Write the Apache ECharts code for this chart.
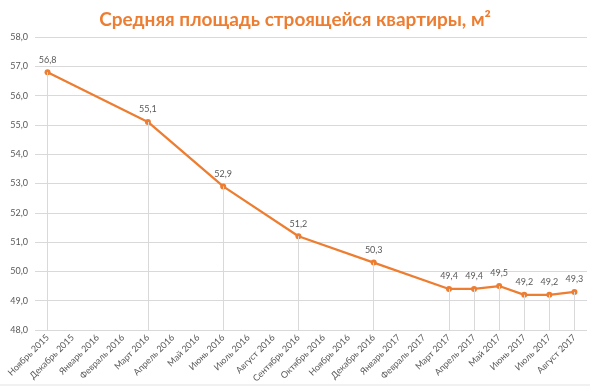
<!DOCTYPE html>
<html><head><meta charset="utf-8">
<script src="https://cdn.jsdelivr.net/npm/echarts@6/dist/echarts.min.js"></script>
<style>html,body{margin:0;padding:0;background:#fff}#c{width:590px;height:386px}</style>
</head><body><div id="c"></div>
<script>
const categories = ["Ноябрь 2015","Декабрь 2015","Январь 2016","Февраль 2016","Март 2016","Апрель 2016","Май 2016","Июнь 2016","Июль 2016","Август 2016","Сентябрь 2016","Октябрь 2016","Ноябрь 2016","Декабрь 2016","Январь 2017","Февраль 2017","Март 2017","Апрель 2017","Май 2017","Июнь 2017","Июль 2017","Август 2017"];
const values = [56.8,null,null,null,55.1,null,null,52.9,null,null,51.2,null,null,50.3,null,null,49.4,49.4,49.5,49.2,49.2,49.3];
const yMin = 48, yMax = 58, yStep = 1;
const titleText = "Средняя площадь строящейся квартиры, м²";

const fmt = v => v.toFixed(1).replace('.', ',');
const dropLines = [];
values.forEach((v,i)=>{ if(v!==null) dropLines.push([{coord:[i,yMin]},{coord:[i,v]}]); });

const chart = echarts.init(document.getElementById('c'));
chart.setOption({
  animation:false,
  title:{text:titleText,left:'center',top:5,textStyle:{color:'#ED7D31',fontFamily:'Lato',fontWeight:'bold',fontSize:19}},
  graphic:[{type:'line',shape:{x1:0,y1:385,x2:590,y2:385},style:{stroke:'#e3e3e3',lineWidth:1}}],
  grid:{left:35,right:3,top:37,bottom:56},
  xAxis:{type:'category',data:categories,boundaryGap:true,
    axisLine:{show:false},axisTick:{show:false},
    axisLabel:{rotate:45,interval:0,color:'#595959',fontFamily:'Lato',fontSize:9,margin:6},
    splitLine:{show:false}},
  yAxis:{type:'value',min:yMin,max:yMax,interval:yStep,
    axisLine:{show:false},axisTick:{show:false},
    axisLabel:{formatter:v=>fmt(v),color:'#595959',fontFamily:'Lato',fontSize:9,margin:7},
    splitLine:{lineStyle:{color:'#d9d9d9',width:1}}},
  series:[{type:'line',data:values,connectNulls:true,
    lineStyle:{color:'#ED7D31',width:2.25},
    itemStyle:{color:'#ED7D31'},symbol:'circle',symbolSize:6,
    label:{show:true,position:'top',distance:5,formatter:p=>fmt(p.value),color:'#595959',fontFamily:'Lato',fontSize:9},
    markLine:{silent:true,symbol:'none',label:{show:false},
      lineStyle:{color:'#d9d9d9',type:'solid',width:1},data:dropLines},
    z:3}]
});
</script></body></html>
